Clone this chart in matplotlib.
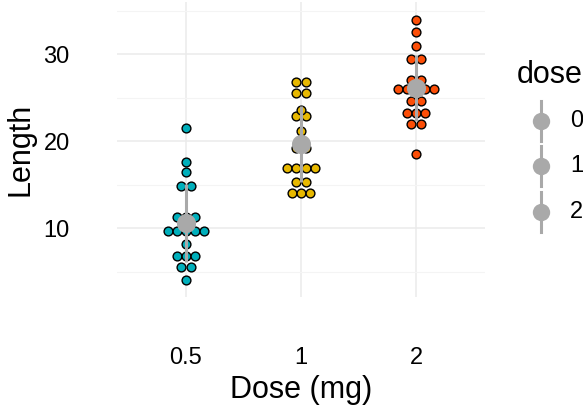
import numpy as np
import matplotlib
matplotlib.use("Agg")
import matplotlib.pyplot as plt
from matplotlib.lines import Line2D

plt.rcParams['font.family'] = ['Liberation Sans', 'DejaVu Sans']

# ToothGrowth dot plot: stacked bins
doses = ['0.5', '1', '2']
colors = ['#00AFBB', '#E7B800', '#FC4E07']

bins_05 = [4.1, 5.5, 6.85, 8.2, 9.7, 11.35, 14.85, 16.5, 17.6, 21.5]
counts_05 = [1, 2, 3, 1, 5, 3, 2, 1, 1, 1]
bins_1 = [14.05, 15.35, 16.9, 19.25, 20.0, 21.2, 22.9, 23.6, 25.5, 26.85]
counts_1 = [3, 2, 4, 2, 1, 1, 2, 1, 2, 2]
bins_2 = [18.5, 21.95, 23.3, 24.65, 25.95, 27.0, 29.45, 30.9, 32.5, 33.9]
counts_2 = [1, 2, 3, 2, 5, 2, 2, 1, 1, 1]

means = [10.6, 19.7, 26.1]
sds = [4.5, 4.4, 3.8]

bins = [bins_05, bins_1, bins_2]
counts = [counts_05, counts_1, counts_2]

W, H = 583, 413
fig = plt.figure(figsize=(W / 100, H / 100), dpi=100)
ax = fig.add_axes([117 / W, (H - 297) / H, (485 - 117) / W, 295 / H])

step = 9.2 / 115.0  # horizontal spacing of stacked dots (data units)
for i in range(3):
    xs, ys = [], []
    for b, n in zip(bins[i], counts[i]):
        for k in range(n):
            xs.append(i + 1 + (k - (n - 1) / 2) * step)
            ys.append(b)
    ax.scatter(xs, ys, s=40, color=colors[i], edgecolor='black', linewidth=1.0, zorder=3)
    ax.plot([i + 1, i + 1], [means[i] - sds[i], means[i] + sds[i]],
            color='#A9A9A9', lw=2.2, zorder=4, solid_capstyle='butt')
    ax.scatter([i + 1], [means[i]], s=190, color='#A9A9A9', zorder=5, linewidth=0)

ax.set_xlim(0.4, 3.6)
ax.set_ylim(2.1, 36.0)
ax.set_xticks([1, 2, 3])
ax.set_xticklabels(doses)
ax.set_yticks([10, 20, 30])
ax.set_yticks([5, 15, 25, 35], minor=True)
ax.grid(True, which='major', color='#EBEBEB', lw=1.1)
ax.grid(True, which='minor', axis='y', color='#F4F4F4', lw=0.8)
ax.set_axisbelow(True)
for s in ax.spines.values():
    s.set_visible(False)
ax.tick_params(which='both', length=0)
ax.tick_params(axis='x', labelsize=17, pad=36)
ax.tick_params(axis='y', labelsize=17, pad=34)
ax.set_xlabel('Dose (mg)', fontsize=22, labelpad=4)
ax.set_ylabel('Length', fontsize=22, labelpad=6)

# legend drawn by hand, clipped at the right edge like the reference
fig.text(517 / W, 1 - 75 / H, 'dose', fontsize=22, ha='left', va='center')
for j, (lab, yk) in enumerate(zip(['0.5', '1', '2'], [121, 166, 212])):
    yf = 1 - yk / H
    fig.add_artist(Line2D([541 / W, 541 / W], [yf - 20 / H, yf + 20 / H],
                          color='#A9A9A9', lw=2.2))
    fig.add_artist(Line2D([541 / W], [yf], marker='o', markersize=12.5,
                          color='#A9A9A9', markeredgewidth=0))
    fig.text(570 / W, yf, lab, fontsize=17, ha='left', va='center')

fig.savefig('out.png', dpi=100)
